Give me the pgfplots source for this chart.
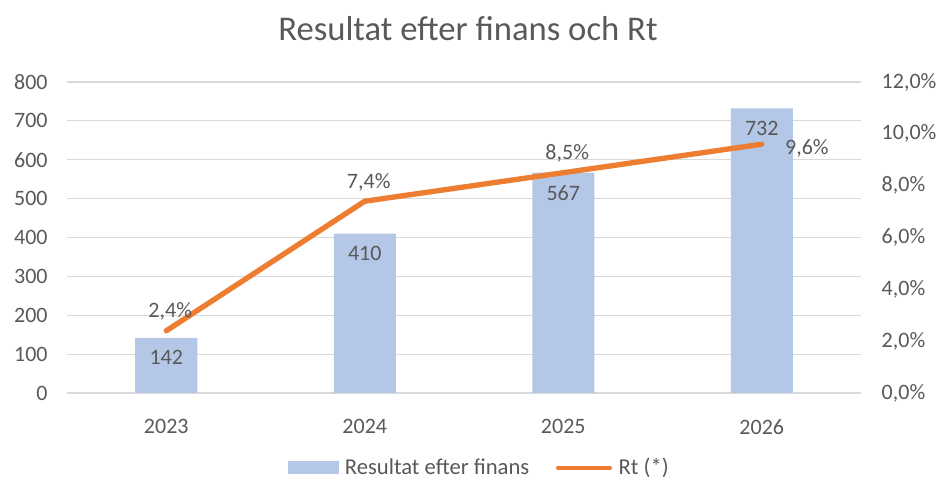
\documentclass[border=0pt]{standalone}
\usepackage{pgfplots}
\pgfplotsset{compat=1.18}
\usepackage{fontspec}
\setmainfont{Carlito}
\definecolor{barblue}{HTML}{B4C7E7}
\definecolor{rtorange}{HTML}{ED7D31}
\definecolor{txt}{HTML}{595959}
\definecolor{gridc}{HTML}{D9D9D9}
\pgfplotstableread{
x y lab
0 142 142
1 410 410
2 567 567
3 732 732
}\bars
\pgfplotstableread{
x y lab
0 2.4 {2,4\%}
1 7.4 {7,4\%}
2 8.5 {8,5\%}
3 9.6 {9,6\%}
}\rt
\pgfplotstableread{
x y lab
0 2.4 {2,4\%}
1 7.4 {7,4\%}
2 8.5 {8,5\%}
}\rtA
\pgfplotstableread{
x y lab
3 9.6 {9,6\%}
}\rtB
\begin{document}
\begin{tikzpicture}[text=txt]
\useasboundingbox (-50.25pt,-69pt) rectangle (654pt,294.75pt);
\pgfplotsset{
  common/.style={
    scale only axis, width=595.5pt, height=233.25pt,
    xmin=-0.5, xmax=3.5, xtick={0,1,2,3},
    axis line style={draw=none}, tick style={draw=none},
    /pgf/number format/assume math mode=true,
    tick label style={font=\fontsize{16.5}{19}\selectfont, text=txt},
  }
}
\begin{axis}[common, ymin=0, ymax=800, ytick={0,100,...,800},
  ymajorgrids, grid style={gridc, line width=0.9pt},
  xticklabels={2023,2024,2025,2026}, xticklabel style={yshift=-12pt},
  yticklabel style={xshift=-11pt},
  title={Resultat efter finans och Rt},
  title style={font=\fontsize{26}{30}\selectfont, text=txt, at={(0.5,1)}, anchor=center, yshift=34pt, xshift=3pt},
  ybar, bar width=46.5pt,
  nodes near coords, point meta=explicit symbolic,
  every node near coord/.append style={anchor=north, yshift=-6pt, font=\fontsize{16.5}{19}\selectfont, text=txt},
]
\addplot[fill=barblue, draw=none] table[x=x, y=y, meta=lab] {\bars};
\end{axis}
\begin{axis}[common, ymin=0, ymax=12, ytick={0,2,...,12},
  yticklabels={{0,0\%},{2,0\%},{4,0\%},{6,0\%},{8,0\%},{10,0\%},{12,0\%}},
  yticklabel pos=right, yticklabel style={xshift=12pt},
  xticklabels={},
  legend style={at={(0.52,-0.24)}, anchor=center, draw=none, fill=none, legend columns=2,
    font=\fontsize{17}{20}\selectfont, text=txt,
    /tikz/every odd column/.append style={column sep=3pt},
    /tikz/every even column/.append style={column sep=18pt}},
]
\addlegendimage{legend image code/.code={\fill[barblue] (0pt,-4.5pt) rectangle (37pt,4.5pt);}}
\addlegendentry{Resultat efter finans}
\addplot[rtorange, line width=4pt, line cap=round, line join=round,
  legend image code/.code={\draw[rtorange, line width=3pt] (0pt,0pt) -- (39pt,0pt);}
] table[x=x, y=y] {\rt};
\addlegendentry{Rt (*)}
\addplot[draw=none, forget plot, nodes near coords, point meta=explicit symbolic,
  every node near coord/.append style={anchor=south, xshift=3pt, yshift=4pt, font=\fontsize{16.5}{19}\selectfont, text=txt}]
  table[x=x, y=y, meta=lab] {\rtA};
\addplot[draw=none, forget plot, nodes near coords, point meta=explicit symbolic,
  every node near coord/.append style={anchor=west, xshift=14pt, yshift=-3pt, font=\fontsize{16.5}{19}\selectfont, text=txt}]
  table[x=x, y=y, meta=lab] {\rtB};
\end{axis}
\end{tikzpicture}
\end{document}
